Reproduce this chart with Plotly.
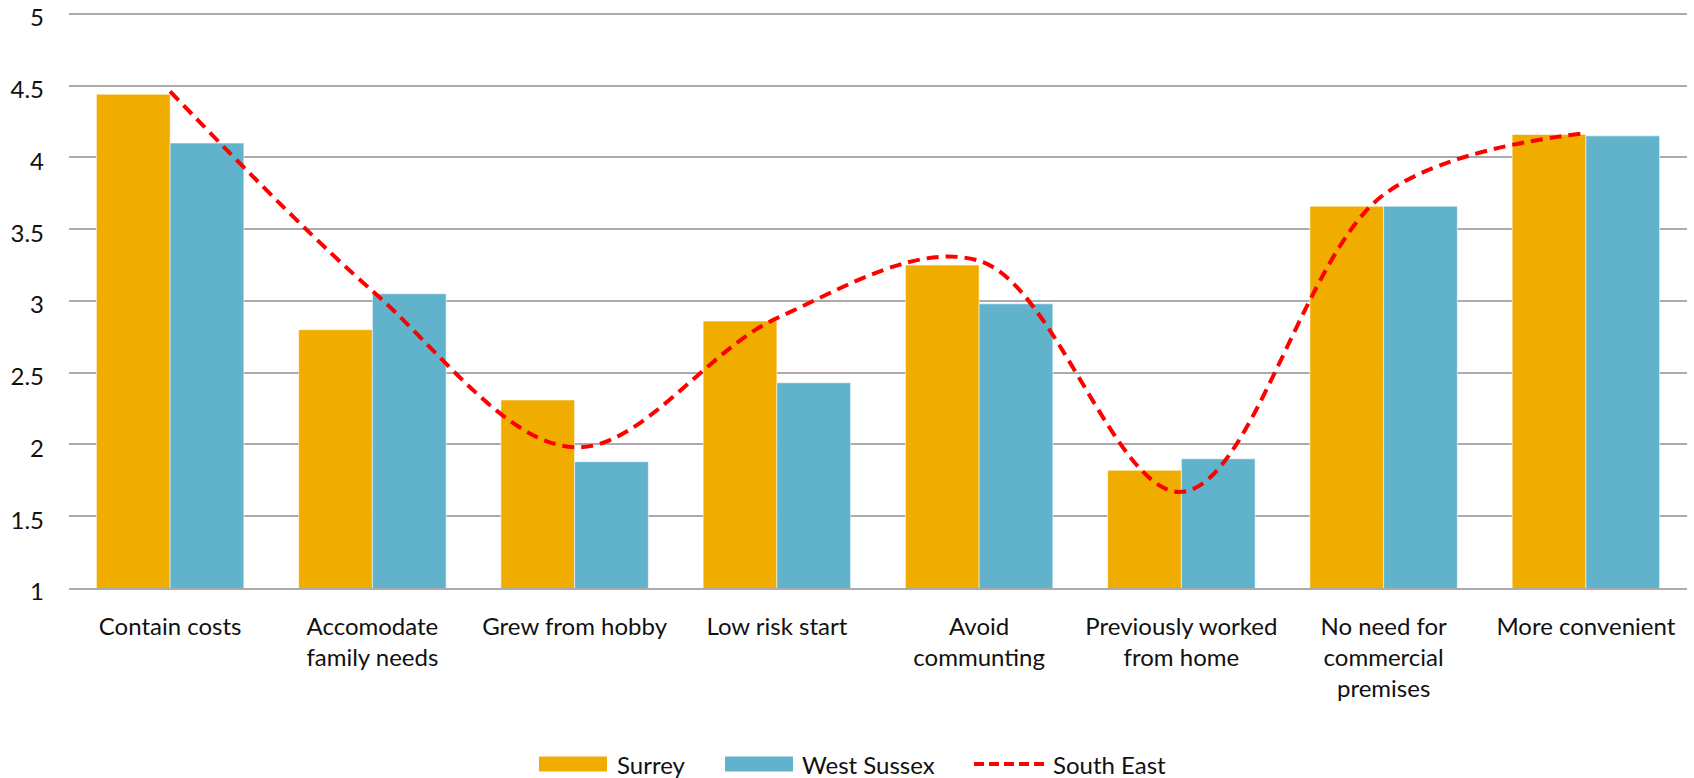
import plotly.graph_objects as go

# Reasons for running the business from home: mean score by area
categories = [
    "Contain costs",
    "Accomodate<br>family needs",
    "Grew from hobby",
    "Low risk start",
    "Avoid<br>communting",
    "Previously worked<br>from home",
    "No need for<br>commercial<br>premises",
    "More convenient",
]
surrey = [4.44, 2.80, 2.31, 2.86, 3.25, 1.82, 3.66, 4.16]
west_sussex = [4.10, 3.05, 1.88, 2.43, 2.98, 1.90, 3.66, 4.15]
south_east = [4.46, 3.07, 1.98, 2.88, 3.28, 1.67, 3.74, 4.17]

y_ticks = [1, 1.5, 2, 2.5, 3, 3.5, 4, 4.5, 5]

SURREY_COLOR = "#F0AD00"
WSUSSEX_COLOR = "#61B3CC"
SE_COLOR = "#FF0000"
GRID_COLOR = "#ABABAB"
TEXT_COLOR = "#111111"
FONT = "Lato"

W, H = 1694, 778
M_L, M_R, M_T, M_B = 69, 7, 11.4, 190.3
Y_RANGE = [1, 5.02]

fig = go.Figure()
fig.add_trace(go.Bar(
    x=categories, y=surrey, name="Surrey",
    marker=dict(color=SURREY_COLOR, line=dict(color="rgba(255,255,255,0.55)", width=1)),
    showlegend=False,
))
fig.add_trace(go.Bar(
    x=categories, y=west_sussex, name="West Sussex",
    marker=dict(color=WSUSSEX_COLOR, line=dict(color="rgba(255,255,255,0.55)", width=1)),
    showlegend=False,
))
fig.add_trace(go.Scatter(
    x=categories, y=south_east, name="South East", mode="lines",
    line=dict(color=SE_COLOR, width=4, dash="12px,7px", shape="spline", smoothing=1),
    showlegend=False,
))

# Legend drawn in pixel positions below the plot area
plot_w = W - M_L - M_R
plot_h = H - M_T - M_B


def px_x(px):
    return (px - M_L) / plot_w


def px_y(py):
    return (H - M_B - py) / plot_h


legend_items = [
    ("Surrey", "bar", SURREY_COLOR, 539, 607, 615),
    ("West Sussex", "bar", WSUSSEX_COLOR, 725, 793, 800),
    ("South East", "line", SE_COLOR, 974, 1045, 1051),
]
legend_cy = 763.5
shapes = []
annotations = []
for label, kind, color, x0, x1, tx in legend_items:
    if kind == "bar":
        shapes.append(dict(
            type="rect", xref="paper", yref="paper",
            x0=px_x(x0), x1=px_x(x1), y0=px_y(legend_cy + 7.5), y1=px_y(legend_cy - 7.5),
            fillcolor=color, line=dict(width=0),
        ))
    else:
        shapes.append(dict(
            type="line", xref="paper", yref="paper",
            x0=px_x(x0), x1=px_x(x1), y0=px_y(legend_cy), y1=px_y(legend_cy),
            line=dict(color=color, width=4, dash="10px,5px"),
        ))
    annotations.append(dict(
        text=label, xref="paper", yref="paper",
        x=px_x(tx), y=px_y(legend_cy), xanchor="left", yanchor="middle",
        showarrow=False, font=dict(family=FONT, size=24, color=TEXT_COLOR),
    ))

fig.update_layout(
    width=W, height=H,
    margin=dict(l=M_L, r=M_R, t=M_T, b=M_B, pad=0, autoexpand=False),
    paper_bgcolor="white", plot_bgcolor="white",
    barmode="group", bargap=0.271, bargroupgap=0,
    font=dict(family=FONT, size=24, color=TEXT_COLOR),
    shapes=shapes, annotations=annotations,
    showlegend=False,
)
fig.update_xaxes(
    type="category", showgrid=False, zeroline=False, automargin=False,
    showline=True, linecolor=GRID_COLOR, linewidth=1.5,
    ticks="", tickfont=dict(family=FONT, size=24, color=TEXT_COLOR),
    ticklabelstandoff=16,
)
fig.update_yaxes(
    range=Y_RANGE, tickvals=y_ticks, ticktext=[f"{v:g}" for v in y_ticks],
    showgrid=True, gridcolor=GRID_COLOR, gridwidth=1.5, automargin=False,
    zeroline=False, showline=False, ticks="",
    tickfont=dict(family=FONT, size=24, color=TEXT_COLOR),
    ticklabelstandoff=24, ticklabelshift=4, ticklabeloverflow="allow",
)

fig.write_html("out.html")
